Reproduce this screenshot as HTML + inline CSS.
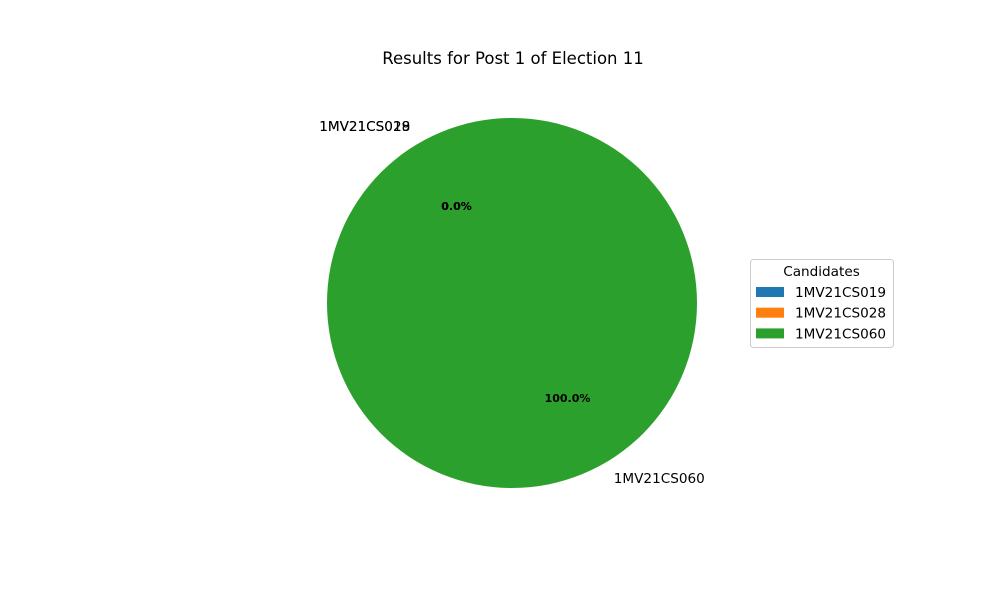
<!DOCTYPE html>
<html><head><meta charset="utf-8"><style>
body{margin:0;background:#fff}
svg text{font-family:"DejaVu Sans","Liberation Sans",sans-serif}
</style></head><body>
<svg id="chart" width="1000" height="600" xmlns="http://www.w3.org/2000/svg">
<rect width="1000" height="600" fill="#fff"/>
<text x="513" y="64" font-size="16.5" text-anchor="middle">Results for Post 1 of Election 11</text>
<g id="pie"></g>
<g id="legend">
<rect x="750.5" y="259.5" width="143" height="88" rx="3" fill="#fff" stroke="#ccc"/>
<text x="821.5" y="276" font-size="13.6" text-anchor="middle">Candidates</text>
</g>
</svg>
<script>
const categories = ["1MV21CS019","1MV21CS028","1MV21CS060"];
const values = [0, 0, 1];
const colors = ["#1f77b4","#ff7f0e","#2ca02c"];
const cx=512, cy=303, R=185, startAngle=120;
const ns="http://www.w3.org/2000/svg";
const pie=document.getElementById('pie');
const total=values.reduce((a,b)=>a+b,0);
let a0=startAngle;
function pt(deg,r){const t=deg*Math.PI/180;return [cx+r*Math.cos(t), cy-r*Math.sin(t)];}
const labels=[];
values.forEach((v,i)=>{
  const sweep=v/total*360;
  const a1=a0+sweep;
  let el;
  if(sweep>=359.999){
    el=document.createElementNS(ns,'circle');
    el.setAttribute('cx',cx);el.setAttribute('cy',cy);el.setAttribute('r',R);
  } else {
    el=document.createElementNS(ns,'path');
    const p0=pt(a0,R),p1=pt(a1,R);
    el.setAttribute('d',`M${cx},${cy} L${p0[0]},${p0[1]} A${R},${R} 0 ${sweep>180?1:0} 0 ${p1[0]},${p1[1]} Z`);
  }
  el.setAttribute('fill',colors[i]);
  
  
  pie.appendChild(el);
  const mid=(a0+a1)/2;
  labels.push([mid,i,v]);
  a0=a1;
});
labels.forEach(([mid,i,v])=>{
  const lp=pt(mid,1.1*R);
  const t=document.createElementNS(ns,'text');
  t.setAttribute('x',lp[0]);t.setAttribute('y',lp[1]+4);
  t.setAttribute('font-size','13.6');
  t.setAttribute('text-anchor',lp[0]<cx?'end':'start');
  t.textContent=categories[i];
  
  
  pie.appendChild(t);
  const pp=pt(mid,0.6*R);
  const p=document.createElementNS(ns,'text');
  p.setAttribute('x',pp[0]);p.setAttribute('y',pp[1]+3);
  p.setAttribute('font-size','11');p.setAttribute('font-weight','bold');
  p.setAttribute('text-anchor','middle');
  p.textContent=(v/total*100).toFixed(1)+'%';
  
  
  pie.appendChild(p);
});
const lg=document.getElementById('legend');
categories.forEach((c,i)=>{
  const y=287+i*20.7;
  const r=document.createElementNS(ns,'rect');
  r.setAttribute('x',756);r.setAttribute('y',y);r.setAttribute('width',28);r.setAttribute('height',10);
  r.setAttribute('fill',colors[i]);
  
  
  lg.appendChild(r);
  const t=document.createElementNS(ns,'text');
  t.setAttribute('x',795);t.setAttribute('y',y+10);t.setAttribute('font-size','13.6');
  t.textContent=c;
  
  
  lg.appendChild(t);
});
</script>
</body></html>
